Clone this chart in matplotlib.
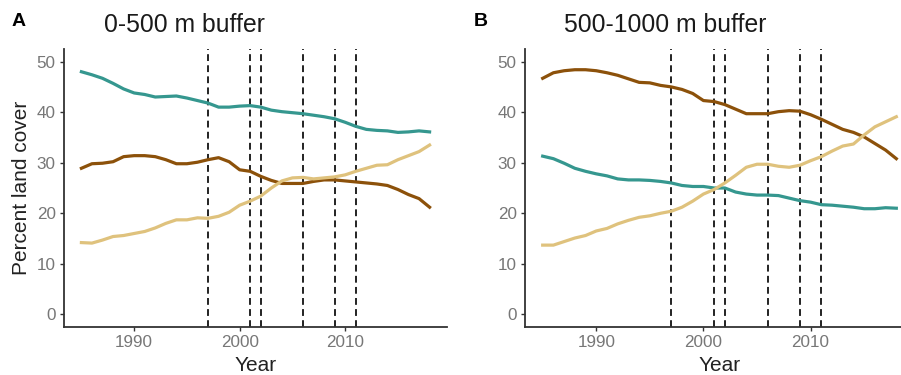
import matplotlib
matplotlib.use('Agg')
import matplotlib.pyplot as plt

plt.rcParams['font.family'] = ['Liberation Sans', 'DejaVu Sans']

# years and land cover (percent)
years = list(range(1985, 2019))

# panel A, 0-500 m buffer
a_teal = [48.0, 47.4, 46.7, 45.7, 44.6, 43.8, 43.5, 43.0, 43.1, 43.2, 42.8, 42.3,
          41.8, 41.0, 41.0, 41.2, 41.3, 41.0, 40.4, 40.1, 39.9, 39.7, 39.4, 39.1,
          38.7, 38.0, 37.2, 36.6, 36.4, 36.3, 36.0, 36.1, 36.3, 36.1]
a_brown = [28.9, 29.8, 29.9, 30.2, 31.2, 31.4, 31.4, 31.2, 30.6, 29.8, 29.8, 30.1,
           30.6, 31.0, 30.2, 28.6, 28.3, 27.3, 26.5, 25.9, 25.9, 25.9, 26.3, 26.6,
           26.6, 26.4, 26.2, 26.0, 25.8, 25.5, 24.7, 23.7, 22.9, 21.2]
a_tan = [14.2, 14.1, 14.7, 15.4, 15.6, 16.0, 16.4, 17.1, 18.0, 18.7, 18.7, 19.1,
         19.0, 19.4, 20.2, 21.6, 22.4, 23.4, 25.0, 26.4, 27.0, 27.1, 26.8, 27.0,
         27.2, 27.6, 28.3, 28.9, 29.5, 29.6, 30.6, 31.4, 32.2, 33.5]

# panel B, 500-1000 m buffer
b_teal = [31.3, 30.8, 29.9, 28.9, 28.3, 27.8, 27.4, 26.8, 26.6, 26.6, 26.5, 26.3,
          26.0, 25.5, 25.3, 25.3, 25.0, 25.0, 24.2, 23.8, 23.6, 23.6, 23.5, 23.0,
          22.5, 22.2, 21.7, 21.6, 21.4, 21.2, 20.9, 20.9, 21.1, 21.0]
b_brown = [46.7, 47.8, 48.2, 48.4, 48.4, 48.2, 47.8, 47.3, 46.6, 45.9, 45.8, 45.3,
           45.0, 44.5, 43.7, 42.3, 42.1, 41.5, 40.6, 39.7, 39.7, 39.7, 40.1, 40.3,
           40.2, 39.5, 38.6, 37.6, 36.6, 36.0, 35.1, 33.8, 32.5, 30.8]
b_tan = [13.7, 13.7, 14.4, 15.1, 15.6, 16.5, 17.0, 17.9, 18.6, 19.2, 19.5, 20.0,
         20.4, 21.2, 22.4, 23.8, 24.7, 26.0, 27.5, 29.1, 29.7, 29.7, 29.3, 29.1,
         29.5, 30.4, 31.2, 32.3, 33.3, 33.7, 35.5, 37.1, 38.1, 39.1]

events = [1997, 2001, 2002, 2006, 2009, 2011]

panels = [
    ('A', '0-500 m buffer', a_teal, a_brown, a_tan),
    ('B', '500-1000 m buffer', b_teal, b_brown, b_tan),
]

teal = '#35978f'
brown = '#8c510a'
tan = '#dfc27d'

W, H = 901, 375
fig = plt.figure(figsize=(W / 100, H / 100), dpi=100)

# axes boxes in pixels: left, right, top, bottom
boxes = [(64, 447, 49, 327), (525, 914, 49, 327)]
title_x = [104, 564]
letter_x = [12, 474]

for i, (letter, title, tl, br, tn) in enumerate(panels):
    l, r, t, b = boxes[i]
    ax = fig.add_axes([l / W, 1 - b / H, (r - l) / W, (b - t) / H])
    for ev in events:
        ax.axvline(ev, color='#222222', lw=1.4, ls=(0, (3.5, 2.2)), zorder=1)
    ax.plot(years, tl, color=teal, lw=2.3, zorder=2)
    ax.plot(years, br, color=brown, lw=2.3, zorder=2)
    ax.plot(years, tn, color=tan, lw=2.3, zorder=2)
    ax.set_xlim(1983.35, 2019.65)
    ax.set_ylim(-2.5, 52.5)
    ax.set_xticks([1990, 2000, 2010])
    ax.set_yticks([0, 10, 20, 30, 40, 50])
    for s in ['top', 'right']:
        ax.spines[s].set_visible(False)
    for s in ['left', 'bottom']:
        ax.spines[s].set_color('#333333')
        ax.spines[s].set_linewidth(1.3)
    ax.tick_params(colors='#333333', labelcolor='#777777', labelsize=12.3,
                   length=3, width=1, pad=3)
    ax.set_xlabel('Year', fontsize=15, color='#222222', labelpad=4)
    if i == 0:
        ax.set_ylabel('Percent land cover', fontsize=15, color='#222222', labelpad=4)
    fig.text(letter_x[i] / W, 1 - 22 / H, letter, fontsize=14, fontweight='bold',
             ha='left', va='center')
    fig.text(title_x[i] / W, 1 - 25 / H, title, fontsize=17.8, color='#1a1a1a',
             ha='left', va='center')

fig.savefig('out.png', dpi=100)
